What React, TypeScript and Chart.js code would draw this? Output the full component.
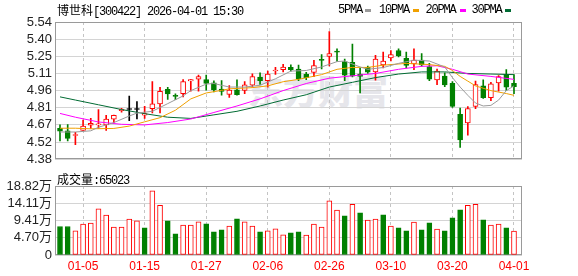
import React, { useEffect, useRef } from 'react';
import { Chart, registerables } from 'chart.js';

Chart.register(...registerables);

// ---- x axis (trading-day index) ----
const tickIdx = [3, 11, 19, 27, 35, 43, 51, 59];
const tickLabels = ['01-05', '01-15', '01-27', '02-06', '02-26', '03-10', '03-20', '04-01'];

// ---- price axis ----
const priceTicks = [4.38, 4.525, 4.67, 4.815, 4.96, 5.105, 5.25, 5.395, 5.54];
const priceTickLabels = ['4.38', '4.52', '4.67', '4.81', '4.96', '5.11', '5.25', '5.40', '5.54'];

// ---- volume axis (万) ----
const volTicks = [0, 4.705, 9.41, 14.115, 18.82];
const volTickLabels = ['0', '4.70万', '9.41万', '14.11万', '18.82万'];

// ---- OHLC ----
const opens = [
  4.64, 4.62, 4.58, 4.623, 4.668, 4.67, 4.67, 4.718, 4.79, 4.80,
  4.80, 4.753, 4.808, 4.848, 4.97, 4.92, 4.934, 5.041, 5.056, 5.053,
  5.026, 4.972, 4.928, 4.967, 4.962, 5.005, 5.075, 5.045, 5.126, 5.137,
  5.156, 5.143, 5.098, 5.114, 5.22, 5.25, 5.289, 5.205, 5.199, 5.10,
  5.156, 5.118, 5.177, 5.237, 5.299, 5.232, 5.186, 5.218, 5.164, 5.051,
  5.083, 5.021, 4.759, 4.686, 4.826, 5.0, 4.9, 5.025, 5.098, 5.021,
];
const highs = [
  4.67, 4.672, 4.607, 4.71, 4.725, 4.80, 4.75, 4.753, 4.81, 4.913,
  4.867, 4.826, 5.037, 4.988, 4.988, 4.932, 5.053, 5.053, 5.091, 5.091,
  5.043, 5.045, 5.002, 5.051, 5.037, 5.102, 5.11, 5.126, 5.156, 5.183,
  5.177, 5.175, 5.114, 5.216, 5.264, 5.458, 5.313, 5.226, 5.353, 5.15,
  5.167, 5.258, 5.286, 5.299, 5.313, 5.286, 5.313, 5.272, 5.191, 5.142,
  5.11, 5.037, 4.812, 4.825, 5.04, 5.051, 5.03, 5.088, 5.137, 5.096,
];
const lows = [
  4.534, 4.534, 4.502, 4.623, 4.64, 4.64, 4.623, 4.688, 4.778, 4.705,
  4.72, 4.725, 4.772, 4.772, 4.885, 4.883, 4.907, 4.956, 4.956, 4.964,
  4.948, 4.921, 4.903, 4.921, 4.934, 4.988, 5.013, 4.988, 5.096, 5.118,
  5.124, 5.043, 5.053, 5.078, 5.143, 5.169, 5.207, 5.043, 5.075, 4.94,
  5.106, 5.048, 5.151, 5.21, 5.245, 5.151, 5.137, 5.167, 5.043, 5.01,
  4.994, 4.818, 4.48, 4.583, 4.807, 4.893, 4.875, 4.956, 4.962, 4.934,
];
const closes = [
  4.618, 4.556, 4.588, 4.66, 4.683, 4.678, 4.72, 4.75, 4.804, 4.80,
  4.80, 4.765, 4.848, 4.953, 4.932, 4.91, 5.037, 5.053, 5.078, 5.021,
  4.966, 4.953, 4.964, 4.926, 5.009, 5.078, 5.045, 5.10, 5.134, 5.159,
  5.137, 5.061, 5.07, 5.171, 5.216, 5.272, 5.285, 5.091, 5.083, 5.08,
  5.116, 5.226, 5.21, 5.264, 5.254, 5.173, 5.218, 5.177, 5.056, 5.124,
  5.007, 4.826, 4.542, 4.807, 5.01, 4.9, 5.017, 5.078, 4.988, 4.994,
];

// ---- volume (万) and its colour (1 = up/red, 0 = down/green) ----
const volumes = [
  7.78, 7.78, 6.6, 8.42, 8.69, 12.58, 10.86, 7.6, 7.6, 9.77,
  9.32, 7.42, 17.47, 13.57, 9.32, 5.79, 8.14, 8.14, 9.05, 8.51,
  6.33, 6.88, 7.87, 9.86, 9.05, 7.87, 6.33, 6.6, 7.15, 5.52,
  6.06, 6.33, 5.43, 8.42, 7.6, 14.75, 12.22, 10.68, 13.84, 11.49,
  9.5, 9.77, 10.95, 7.87, 7.42, 6.6, 8.96, 6.88, 8.78, 7.06,
  6.6, 10.13, 12.31, 13.57, 13.84, 9.59, 8.14, 8.42, 7.42, 6.5023,
];
const volUp = [
  0, 0, 1, 1, 1, 1, 1, 1, 1, 1,
  1, 0, 1, 1, 0, 0, 1, 1, 1, 0,
  0, 0, 1, 0, 1, 1, 0, 1, 1, 1,
  0, 0, 1, 1, 1, 1, 1, 0, 1, 0,
  1, 1, 0, 1, 0, 0, 1, 0, 0, 1,
  0, 0, 0, 1, 1, 0, 1, 1, 0, 1,
];

// ---- moving averages as [index, value] ----
const ma5Points = [
  [0, 4.61], [2, 4.61], [4, 4.62], [5, 4.65], [7, 4.69], [9, 4.745], [10, 4.77], [12, 4.785],
  [14, 4.85], [16, 4.915], [17, 4.96], [19, 5.015], [20, 5.02], [22, 4.99], [24, 4.99], [26, 5.005],
  [28, 5.06], [30, 5.125], [32, 5.13], [34, 5.16], [36, 5.205], [37, 5.21], [39, 5.16], [40, 5.14],
  [42, 5.155], [44, 5.19], [46, 5.218], [48, 5.21], [50, 5.16], [51, 5.07], [52, 4.99], [53, 4.92],
  [54, 4.855], [55, 4.83], [56, 4.835], [57, 4.88], [58, 4.96], [59, 5.0],
];
const ma10Points = [
  [0, 4.642], [2, 4.642], [4, 4.637], [7, 4.64], [9, 4.66], [10, 4.678], [11, 4.696], [13, 4.731],
  [15, 4.794], [17, 4.89], [19, 4.94], [21, 4.962], [22, 4.975], [25, 4.985], [27, 5.0], [29, 5.035],
  [31, 5.055], [34, 5.095], [36, 5.14], [38, 5.156], [40, 5.156], [42, 5.175], [45, 5.19], [48, 5.18],
  [50, 5.165], [51, 5.13], [52, 5.08], [53, 5.04], [54, 5.0], [56, 4.96], [58, 4.935], [59, 4.92],
];
const ma20Points = [
  [0, 4.767], [2, 4.735], [5, 4.695], [8, 4.675], [11, 4.67], [14, 4.69], [17, 4.72], [20, 4.775],
  [23, 4.83], [26, 4.89], [29, 4.96], [32, 5.02], [35, 5.065], [38, 5.085], [41, 5.105], [44, 5.14],
  [47, 5.165], [49, 5.17], [51, 5.14], [53, 5.10], [56, 5.08], [59, 5.055],
];
const ma30Points = [
  [0, 4.907], [2, 4.88], [5, 4.84], [8, 4.80], [11, 4.765], [14, 4.735], [17, 4.725], [20, 4.755],
  [23, 4.785], [26, 4.83], [29, 4.88], [32, 4.925], [35, 4.99], [38, 5.03], [41, 5.07], [44, 5.10],
  [47, 5.118], [50, 5.118], [53, 5.105], [56, 5.10], [59, 5.095],
];

// ---- styles ----
const RED = '#ff0000';
const GREEN = '#008000';
const FLAT = '#000000';
const C_MA5 = '#9a9a9a';
const C_MA10 = '#f0a000';
const C_MA20 = '#ff00ff';
const C_MA30 = '#006b33';
const X_MIN = -0.65;
const X_MAX = 60.04;
const TICK_FONT = "'Liberation Sans', 'Noto Sans CJK SC', sans-serif";

const kinds = opens.map((o, i) => (closes[i] > o ? 'up' : closes[i] < o ? 'down' : 'flat'));
const kindColor = (k: string) => (k === 'up' ? RED : k === 'down' ? GREEN : FLAT);

const framePlugin = {
  id: 'frame',
  beforeDatasetsDraw(chart: any) {
    const { ctx, chartArea } = chart;
    ctx.save();
    ctx.strokeStyle = '#9a9a9a';
    ctx.lineWidth = 1;
    ctx.strokeRect(
      Math.round(chartArea.left) + 0.5,
      Math.round(chartArea.top) + 0.5,
      Math.round(chartArea.right - chartArea.left) - 1,
      Math.round(chartArea.bottom - chartArea.top) - 1,
    );
    ctx.restore();
  },
};

function xAxis(showLabels: boolean) {
  return {
    type: 'linear',
    min: X_MIN,
    max: X_MAX,
    offset: false,
    afterBuildTicks: (axis: any) => {
      axis.ticks = tickIdx.map((v) => ({ value: v }));
    },
    ticks: {
      display: showLabels,
      autoSkip: false,
      maxRotation: 0,
      color: RED,
      padding: 4,
      font: { family: TICK_FONT, size: 12 },
      callback: (_v: any, i: number) => tickLabels[i],
    },
    grid: { color: '#c4c4c4', lineWidth: 1, drawTicks: false, offset: false },
    border: { display: false, dash: [3, 3] },
    afterFit: (axis: any) => {
      axis.height = showLabels ? 21 : 0;
    },
  };
}

function yAxis(min: number, max: number, ticks: number[], labels: string[]) {
  return {
    type: 'linear',
    min,
    max,
    afterBuildTicks: (axis: any) => {
      axis.ticks = ticks.map((v) => ({ value: v }));
    },
    ticks: {
      autoSkip: false,
      color: '#222',
      padding: 3,
      font: { family: TICK_FONT, size: 13 },
      callback: (_v: any, i: number) => labels[i],
    },
    grid: { color: '#d4d4d4', lineWidth: 1, drawTicks: false },
    border: { display: false },
    afterFit: (axis: any) => {
      axis.width = 55;
    },
  };
}

const maLine = (pts: number[][], color: string) => ({
  type: 'line',
  data: pts.map(([i, v]) => ({ x: i, y: v })),
  borderColor: color,
  borderWidth: 1,
  pointRadius: 0,
  fill: false,
  tension: 0,
  order: 0,
});

export default function App() {
  const priceRef = useRef<HTMLCanvasElement>(null);
  const volRef = useRef<HTMLCanvasElement>(null);

  useEffect(() => {
    const price = new Chart(priceRef.current as HTMLCanvasElement, {
      type: 'bar',
      data: {
        datasets: [
          maLine(ma5Points, C_MA5),
          maLine(ma10Points, C_MA10),
          maLine(ma20Points, C_MA20),
          maLine(ma30Points, C_MA30),
          {
            type: 'bar',
            data: opens.map((o, i) => ({ x: i, y: [o, closes[i]] })),
            backgroundColor: kinds.map((k) => (k === 'up' ? '#ffffff' : kindColor(k))),
            borderColor: kinds.map(kindColor),
            borderWidth: 1,
            borderSkipped: false,
            barThickness: 5,
            minBarLength: 1,
            grouped: false,
            order: 1,
          },
          {
            type: 'bar',
            data: lows.map((l, i) => ({ x: i, y: [l, highs[i]] })),
            backgroundColor: kinds.map(kindColor),
            borderWidth: 0,
            barThickness: 1,
            grouped: false,
            order: 2,
          },
        ] as any,
      },
      options: {
        responsive: false,
        animation: false,
        events: [],
        layout: { padding: { top: 22, right: 56, bottom: 5, left: 0 } },
        plugins: { legend: { display: false }, tooltip: { enabled: false }, title: { display: false } },
        scales: {
          x: xAxis(false) as any,
          y: yAxis(4.38, 5.54, priceTicks, priceTickLabels) as any,
        },
      },
      plugins: [framePlugin],
    });

    const vol = new Chart(volRef.current as HTMLCanvasElement, {
      type: 'bar',
      data: {
        datasets: [
          {
            data: volumes.map((v, i) => ({ x: i, y: v })),
            backgroundColor: volUp.map((u) => (u ? '#ffffff' : GREEN)),
            borderColor: volUp.map((u) => (u ? RED : GREEN)),
            borderWidth: 1,
            borderSkipped: false,
            barThickness: 5,
            grouped: false,
          },
        ] as any,
      },
      options: {
        responsive: false,
        animation: false,
        events: [],
        layout: { padding: { top: 16, right: 56, bottom: 0, left: 0 } },
        plugins: { legend: { display: false }, tooltip: { enabled: false }, title: { display: false } },
        scales: {
          x: xAxis(true) as any,
          y: yAxis(0, 18.82, volTicks, volTickLabels) as any,
        },
      },
      plugins: [framePlugin],
    });

    return () => {
      price.destroy();
      vol.destroy();
    };
  }, []);

  const txt: React.CSSProperties = {
    position: 'absolute',
    fontFamily: "'Liberation Mono', 'Noto Sans CJK SC', monospace",
    fontSize: 12,
    lineHeight: '12px',
    letterSpacing: '-1.2px',
    color: '#000',
    whiteSpace: 'nowrap',
  };
  const cjk: React.CSSProperties = { letterSpacing: 0, fontFamily: "'Noto Sans CJK SC', sans-serif" };
  const legend = [
    { label: '5PMA', x: 338, dx: 365, color: C_MA5 },
    { label: '10PMA', x: 379, dx: 413, color: C_MA10 },
    { label: '20PMA', x: 425.5, dx: 459.5, color: C_MA20 },
    { label: '30PMA', x: 471.5, dx: 505, color: C_MA30 },
  ];

  return (
    <div
      style={{
        position: 'absolute',
        left: 0,
        top: 0,
        width: 578,
        height: 276,
        background: '#fff',
        overflow: 'hidden',
      }}
    >
      <div
        style={{
          position: 'absolute',
          left: 248,
          top: 70,
          fontFamily: "'Noto Sans CJK SC', sans-serif",
          fontWeight: 900,
          fontSize: 35,
          lineHeight: '40px',
          color: '#e6e6eb',
          whiteSpace: 'nowrap',
        }}
      >
        东方财富
      </div>
      <canvas
        ref={priceRef}
        width={578}
        height={170}
        style={{ position: 'absolute', left: 0, top: 0, width: 578, height: 170 }}
      />
      <canvas
        ref={volRef}
        width={578}
        height={106}
        style={{ position: 'absolute', left: 0, top: 170, width: 578, height: 106 }}
      />
      <div style={{ ...txt, left: 57, top: 3.5 }}>
        <span style={cjk}>博世科</span>[300422] 2026-04-01 15:30
      </div>
      {legend.map((l) => (
        <React.Fragment key={l.label}>
          <div style={{ ...txt, left: l.x, top: 4 }}>{l.label}</div>
          <div
            style={{
              position: 'absolute',
              left: l.dx,
              top: 8.5,
              width: 6,
              height: 3,
              background: l.color,
            }}
          />
        </React.Fragment>
      ))}
      <div style={{ ...txt, left: 57, top: 172.5 }}>
        <span style={cjk}>成交量</span>:65023
      </div>
    </div>
  );
}
